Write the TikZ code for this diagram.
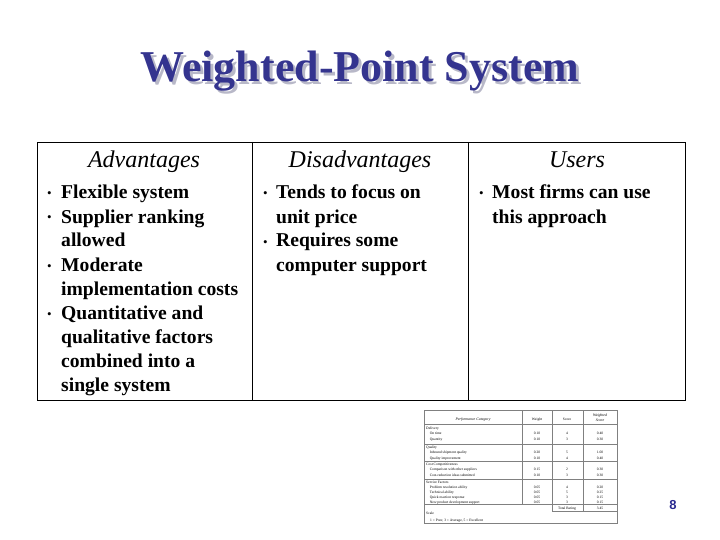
\documentclass[tikz,border=0pt]{standalone}
\usepackage{fontspec}
\setmainfont{Liberation Serif}
\newfontfamily\sansb{Liberation Sans}
\definecolor{ttl}{HTML}{34348F}
\definecolor{shd}{HTML}{B8B8C8}
\definecolor{pgn}{HTML}{2A2A90}
\begin{document}
\begin{tikzpicture}[x=1pt,y=-1pt,
  body/.style={anchor=base west,inner sep=0,font=\fontsize{19.6}{20}\selectfont\bfseries},
  bul/.style={anchor=base west,inner sep=0,font=\fontsize{13}{14}\selectfont},
  hdr/.style={anchor=base,inner sep=0,font=\fontsize{24}{26}\selectfont\itshape},
  tt/.style={anchor=base west,inner sep=0,font=\fontsize{3.6}{4}\selectfont},
  tc/.style={anchor=base,inner sep=0,font=\fontsize{3.6}{4}\selectfont}]
\useasboundingbox (0,0) rectangle (720,540);
\node[anchor=base,inner sep=0,text=shd,font=\fontsize{44}{48}\selectfont\bfseries] (tshadow) at (363,85) {Weighted-Point System};
\node[anchor=base,inner sep=0,text=ttl,font=\fontsize{44}{48}\selectfont\bfseries] (title) at (360,82) {Weighted-Point System};
\draw[line width=0.8pt] (37,142) rectangle (685,400);
\draw[line width=0.8pt] (252,142) -- (252,400) (468,142) -- (468,400);
\node[hdr] (h1) at (144,168) {Advantages};
\node[hdr] (h2) at (360,168) {Disadvantages};
\node[hdr] (h3) at (577,168) {Users};
% column 1
\foreach \y in {198,222,270,318} \node[bul] at (47,\y) {•};
\node[body] (a1) at (61,199) {Flexible system};
\node[body] (a2) at (61,223) {Supplier ranking};
\node[body] (a3) at (61,247) {allowed};
\node[body] (a4) at (61,271) {Moderate};
\node[body] (a5) at (61,295) {implementation costs};
\node[body] (a6) at (61,319) {Quantitative and};
\node[body] (a7) at (61,343) {qualitative factors};
\node[body] (a8) at (61,367) {combined into a};
\node[body] (a9) at (61,391) {single system};
% column 2
\foreach \y in {198,246} \node[bul] at (263,\y) {•};
\node[body] (d1) at (276,199) {Tends to focus on};
\node[body] (d2) at (276,223) {unit price};
\node[body] (d3) at (276,247) {Requires some};
\node[body] (d4) at (276,271) {computer support};
% column 3
\node[bul] at (479,198) {•};
\node[body] (u1) at (492,199) {Most firms can use};
\node[body] (u2) at (492,223) {this approach};
% small table
\draw[line width=0.3pt,gray] (424,410) rectangle (617,523);
\draw[line width=0.3pt,gray] (424,424) -- (617,424) (424,444) -- (617,444) (424,461) -- (617,461) (424,479) -- (617,479) (424,504) -- (617,504) (552,511) -- (617,511);
\draw[line width=0.3pt,gray] (522,410) -- (522,504) (552,410) -- (552,511) (583,410) -- (583,511);
\node[tc,font=\fontsize{3.8}{4}\selectfont\itshape] at (473,420) {Performance Category};
\node[tc] at (537,420) {Weight};
\node[tc] at (567,420) {Score};
\node[tc,font=\fontsize{3.8}{4}\selectfont\itshape] at (600,416) {Weighted};
\node[tc,font=\fontsize{3.8}{4}\selectfont\itshape] at (600,421) {Score};
\foreach \y/\a/\b/\w/\s in {
 429/Delivery///, 434/\quad On time/0.10/4/0.40, 440/\quad Quantity/0.10/3/0.30,
 448/Quality///, 453/\quad Inbound shipment quality/0.20/5/1.00, 459/\quad Quality improvement/0.10/4/0.40,
 465/Cost Competitiveness///, 470/\quad Comparison with other suppliers/0.15/2/0.30, 476/\quad Cost-reduction ideas submitted/0.10/3/0.30,
 483/Service Factors///, 488/\quad Problem resolution ability/0.05/4/0.20, 493/\quad Technical ability/0.05/5/0.25,
 498/\quad Quick reaction response/0.05/3/0.15, 503/\quad New product development support/0.05/3/0.15}
 {\node[tt] at (426,\y) {\a}; \node[tc] at (537,\y) {\b}; \node[tc] at (567,\y) {\w}; \node[tc] at (600,\y) {\s};}
\node[tc] at (567,509) {Total Rating};
\node[tc] at (600,509) {3.45};
\node[tt] at (426,514) {Scale};
\node[tt] at (430,521) {1 = Poor,\ 3 = Average,\ 5 = Excellent};
\node[anchor=base,inner sep=0,text=pgn,font=\fontsize{13}{14}\selectfont\sansb\bfseries] (pg) at (673,509) {8};
\end{tikzpicture}
\end{document}
